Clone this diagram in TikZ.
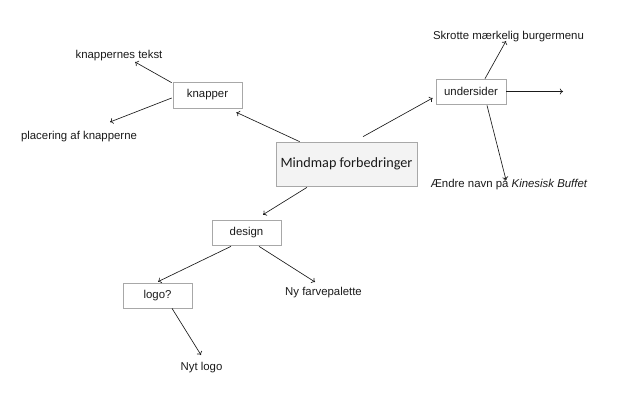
\documentclass[tikz,border=0pt]{standalone}
\usepackage{fontspec}
\setmainfont{Liberation Sans}
\newfontfamily\titlefont{Carlito}
\usetikzlibrary{calc,arrows.meta}
\definecolor{boxline}{HTML}{A8A8A8}
\definecolor{boxfill}{HTML}{F3F3F3}
\definecolor{ink}{HTML}{1A1A1A}
\begin{document}
\begin{tikzpicture}[x=1pt,y=1pt,
  topicbox/.style={draw=boxline, line width=0.7pt, fill=white, inner sep=0pt,
    minimum width=69pt, minimum height=25pt, text=ink,
    font=\fontsize{11.4}{13}\selectfont},
  centerbox/.style={draw=boxline, line width=0.7pt, fill=boxfill, inner sep=0pt,
    minimum width=141pt, minimum height=44pt, text=ink,
    font=\titlefont\fontsize{14.2}{16}\selectfont},
  leaf/.style={inner sep=0pt, text=ink, font=\fontsize{11.4}{13}\selectfont},
  link/.style={draw=ink, line width=0.65pt, -{To[length=3.2pt,width=6pt]}}]
\useasboundingbox (0,0) rectangle (628,402);

% central topic
\node[centerbox] (mm) at (346.5,238) {Mindmap forbedringer};

% branches
\node[topicbox, minimum height=26pt] (kn) at (207.5,307) {knapper};
\node[topicbox, minimum width=70pt] (us) at (471,310.5) {undersider};
\node[topicbox] (de) at (246.5,169.5) {design};
\node[topicbox] (lo) at (157.5,106.5) {logo?};

% leaves
\node[leaf] (kt) at (119,346) {knappernes tekst};
\node[leaf] (pk) at (79,265) {placering af knapperne};
\node[leaf] (sk) at (508.5,365) {Skrotte mærkelig burgermenu};
\node[leaf] (ae) at (509,218) {Ændre navn på \textit{Kinesisk Buffet}};
\node[leaf] (nf) at (323.5,109) {Ny farvepalette};
\node[leaf] (nl) at (201.5,34) {Nyt logo};
\coordinate (rt) at (563,310.5);

% connectors
\draw[link] ($(mm.north west)+(24,0)$) -- ($(kn.south east)+(-6,-4)$);
\draw[link] ($(kn.north west)+(-1,-1)$) -- ($(kt.center)+(16,-6)$);
\draw[link] ($(kn.west)+(-1,-3)$) -- ($(pk.center)+(31,15)$);
\draw[link] ($(mm.north)+(16.5,5)$) -- ($(us.west)+(-3,-6.5)$);
\draw[link] ($(us.north)+(14,0)$) -- ($(sk.center)+(-2.5,-4)$);
\draw[link] (us.east) -- (rt);
\draw[link] ($(us.south)+(16,-1)$) -- ($(ae.center)+(-3,4)$);
\draw[link] ($(mm.south)+(-39.5,-1)$) -- ($(de.north)+(16.5,5)$);
\draw[link] ($(de.south)+(-15.5,-1)$) -- ($(lo.north)+(0.5,1)$);
\draw[link] ($(de.south)+(12.5,-1)$) -- ($(nf.center)+(-8.5,11)$);
\draw[link] ($(lo.south)+(14.5,0)$) -- ($(nl.center)+(-0.5,13)$);
\end{tikzpicture}
\end{document}
